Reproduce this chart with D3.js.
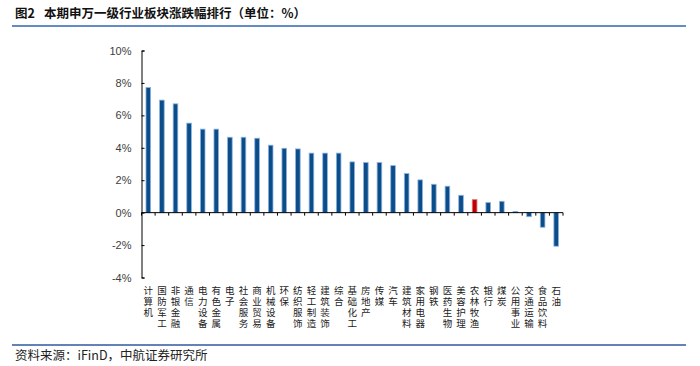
<!DOCTYPE html>
<html>
<head>
<meta charset="utf-8">
<script src="https://cdn.jsdelivr.net/npm/d3@7"></script>
<style>
  body { margin: 0; background: #fff; }
  svg { display: block; }
</style>
</head>
<body>
<div id="chart"></div>
<script>
'use strict';

var industries = ['计算机', '国防军工', '非银金融', '通信', '电力设备', '有色金属', '电子', '社会服务',
    '商业贸易', '机械设备', '环保', '纺织服饰', '轻工制造', '建筑装饰', '综合', '基础化工', '房地产',
    '传媒', '汽车', '建筑材料', '家用电器', '钢铁', '医药生物', '美容护理', '农林牧渔', '银行', '煤炭',
    '公用事业', '交通运输', '食品饮料', '石油'];
var changes = [7.72, 6.94, 6.71, 5.52, 5.15, 5.15, 4.65, 4.65, 4.59, 4.16, 3.97, 3.93, 3.67, 3.67,
    3.67, 3.13, 3.09, 3.09, 2.90, 2.41, 2.02, 1.75, 1.63, 1.07, 0.80, 0.62, 0.70, 0.08, -0.25, -0.90, -2.07];
var highlighted = ['农林牧渔'];
var yTicks = [-4, -2, 0, 2, 4, 6, 8, 10];

var width = 700,
    height = 366;

var svg = d3.select('#chart').append('svg')
    .attr('width', width)
    .attr('height', height);

// title + rules
var title = svg.append('text')
    .attr('x', 15)
    .attr('y', 18)
    .attr('font-family', 'Noto Sans CJK SC')
    .attr('font-weight', 'bold')
    .attr('font-size', '12.5px')
    .attr('fill', '#111');
title.append('tspan').text('图2');
title.append('tspan').attr('dx', 9).text('本期申万一级行业板块涨跌幅排行（单位：%）');

svg.append('line')
    .attr('x1', 12).attr('x2', 686)
    .attr('y1', 26).attr('y2', 26)
    .attr('stroke', '#2f64b0')
    .attr('stroke-width', 1.5);

svg.append('line')
    .attr('x1', 12).attr('x2', 686)
    .attr('y1', 345).attr('y2', 345)
    .attr('stroke', '#2f5a9e')
    .attr('stroke-width', 1.5);

svg.append('text')
    .attr('x', 15)
    .attr('y', 360)
    .attr('font-family', 'Noto Sans CJK SC')
    .attr('font-size', '12.5px')
    .attr('fill', '#222')
    .text('资料来源：iFinD，中航证券研究所');

// scales
var x = d3.scaleBand()
    .domain(industries)
    .range([141.5, 563])
    .paddingInner(0.66)
    .paddingOuter(0.33);

var y = d3.scaleLinear()
    .domain([-4, 10])
    .range([277.5, 50.5]);

// y axis
var yAxis = svg.append('g')
    .attr('transform', 'translate(141.5,0)')
    .call(d3.axisLeft(y)
        .tickValues(yTicks)
        .tickSize(-3)
        .tickPadding(10)
        .tickFormat(function(d) { return d + '%'; }));

yAxis.select('.domain').attr('stroke', '#000').attr('stroke-width', 1);
yAxis.selectAll('.tick line').attr('stroke', '#000');
yAxis.selectAll('.tick text')
    .attr('font-family', 'Liberation Sans')
    .attr('font-size', '11px')
    .attr('fill', '#404040');

// bars
svg.append('g')
    .selectAll('rect')
    .data(industries)
    .enter().append('rect')
    .attr('x', function(d) { return x(d); })
    .attr('width', x.bandwidth())
    .attr('y', function(d, i) { return y(Math.max(0, changes[i])); })
    .attr('height', function(d, i) { return Math.abs(y(changes[i]) - y(0)); })
    .attr('fill', function(d) { return highlighted.indexOf(d) >= 0 ? '#c00000' : '#0b4d88'; })
    .attr('stroke', function(d) { return highlighted.indexOf(d) >= 0 ? '#e07070' : '#8db3e2'; })
    .attr('stroke-width', 0.8);

// zero line with category ticks
var step = x.step();
var zero = svg.append('g').attr('transform', 'translate(0,' + y(0) + ')');
zero.append('line')
    .attr('x1', 141.5).attr('x2', 563)
    .attr('stroke', '#000')
    .attr('stroke-width', 1);
zero.selectAll('line.tick')
    .data(d3.range(industries.length + 1))
    .enter().append('line')
    .attr('class', 'tick')
    .attr('x1', function(i) { return 141.5 + i * step; })
    .attr('x2', function(i) { return 141.5 + i * step; })
    .attr('y1', 0).attr('y2', 3)
    .attr('stroke', '#000');

// vertical category labels, one character per row
var labels = svg.append('g');
industries.forEach(function(name) {
    var t = labels.append('text')
        .attr('font-family', 'Noto Sans CJK SC')
        .attr('font-size', '9.5px')
        .attr('fill', '#222')
        .attr('text-anchor', 'middle');
    name.split('').forEach(function(ch, j) {
        t.append('tspan')
            .attr('x', x(name) + x.bandwidth() / 2)
            .attr('y', 294 + j * 11)
            .text(ch);
    });
});
</script>
</body>
</html>
